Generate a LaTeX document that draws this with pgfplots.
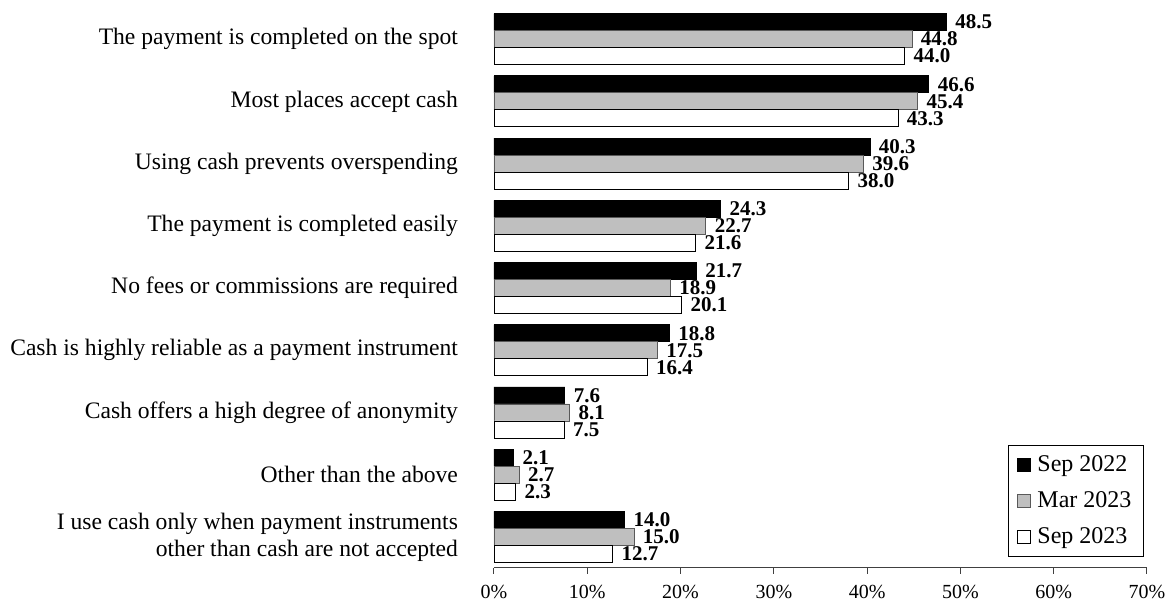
\documentclass[border=0pt]{standalone}
\usepackage{fontspec}
\setmainfont{Liberation Serif}
\usepackage{pgfplots}
\pgfplotsset{compat=1.18}
\definecolor{barsilver}{HTML}{BFBFBF}
\begin{document}
\begin{tikzpicture}
\path[use as bounding box] (-247pt,-20pt) rectangle (340pt,284pt);
\begin{axis}[
  at={(0,0)}, anchor=south west,
  scale only axis, width=326.5pt, height=280pt,
  xbar=0pt, bar width=8.5pt,
  xmin=0, xmax=70, xtick={0,10,...,70},
  xticklabels={0\%,10\%,20\%,30\%,40\%,50\%,60\%,70\%},
  ymin=-0.5, ymax=8.5, y dir=reverse, ytick={0,...,8},
  yticklabels={The payment is completed on the spot,
    Most places accept cash,
    Using cash prevents overspending,
    The payment is completed easily,
    No fees or commissions are required,
    Cash is highly reliable as a payment instrument,
    Cash offers a high degree of anonymity,
    Other than the above,
    {I use cash only when payment instruments\\other than cash are not accepted}},
  axis x line*=bottom, axis y line*=left,
  y axis line style={draw=none}, ytick style={draw=none},
  x axis line style={black!75, line width=0.5pt},
  xtick style={black!75, line width=0.5pt},
  tick align=outside, major tick length=3pt,
  xticklabel style={font=\fontsize{10}{12}\selectfont, yshift=-2pt},
  yticklabel style={align=right, font=\fontsize{11.8}{13.5}\selectfont, xshift=-11.5pt},
  point meta=x,
  nodes near coords={\pgfmathprintnumber[fixed,fixed zerofill,precision=1,assume math mode=true]{\pgfplotspointmeta}},
  every node near coord/.append style={font=\bfseries\fontsize{10.5}{12}\selectfont, anchor=west, xshift=1pt, black},
  legend style={at={(axis description cs:0.9954,0.0196)}, anchor=south east,
    draw=black, line width=0.5pt, font=\fontsize{12}{14}\selectfont,
    row sep=4.5pt, inner xsep=4pt, inner ysep=3pt},
  legend cell align=left,
  legend image code/.code={\draw[#1,/tikz/.cd,line width=0.4pt,yshift=-3.25pt] (0pt,0pt) rectangle (6.5pt,6.5pt); \path (0pt,0pt) (8pt,0pt);},
]
\addplot[fill=black, draw=black, line width=0.4pt, bar shift=8.5pt] coordinates {
  (48.5,0) (46.6,1) (40.3,2) (24.3,3) (21.7,4) (18.8,5) (7.6,6) (2.1,7) (14.0,8)};
\addplot[fill=barsilver, draw=black!65, line width=0.4pt, bar shift=0pt] coordinates {
  (44.8,0) (45.4,1) (39.6,2) (22.7,3) (18.9,4) (17.5,5) (8.1,6) (2.7,7) (15.0,8)};
\addplot[fill=white, draw=black, line width=0.4pt, bar shift=-8.5pt] coordinates {
  (44.0,0) (43.3,1) (38.0,2) (21.6,3) (20.1,4) (16.4,5) (7.5,6) (2.3,7) (12.7,8)};
\legend{Sep 2022, Mar 2023, Sep 2023}
\end{axis}
\end{tikzpicture}
\end{document}
